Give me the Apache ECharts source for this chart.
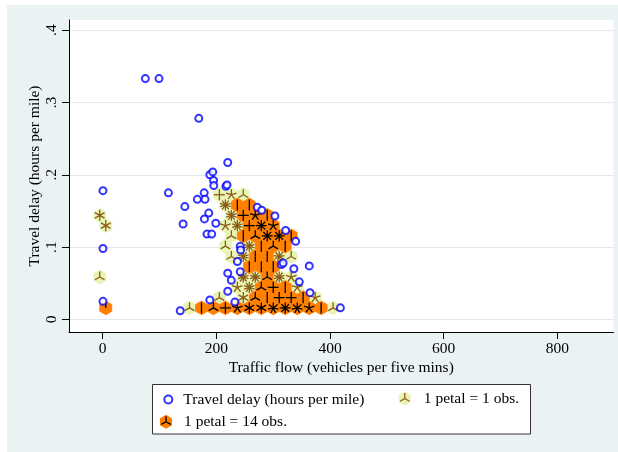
<!DOCTYPE html>
<html>
<head>
<meta charset="utf-8">
<script src="https://cdn.jsdelivr.net/npm/echarts@6/dist/echarts.min.js"></script>
<style>
  html, body { margin: 0; padding: 0; background: #ffffff; }
  #chart { width: 618px; height: 452px; }
</style>
</head>
<body>
<div id="chart"></div>
<script>
// Individual observations: [traffic flow, travel delay]
const delayPoints = [
  [75, 0.333], [99, 0.333], [169, 0.278], [220, 0.217], [188.5, 0.200], [193.6, 0.204],
  [195, 0.192], [195.4, 0.185], [216.7, 0.184], [218.7, 0.186], [0.4, 0.178], [115.6, 0.175],
  [178.5, 0.175], [166.5, 0.166], [180, 0.166], [144.5, 0.156], [272, 0.155], [279.8, 0.151],
  [303, 0.143], [186.6, 0.147], [141.4, 0.132], [179, 0.139], [199, 0.133], [322, 0.123],
  [339.6, 0.108], [183.5, 0.118], [191.8, 0.118], [0.4, 0.098], [242, 0.101], [242.6, 0.096],
  [237, 0.080], [314.4, 0.076], [317.5, 0.078], [336.4, 0.070], [363.5, 0.074], [220, 0.064],
  [226.3, 0.054], [345.9, 0.052], [242, 0.066], [220, 0.039], [188.5, 0.027], [0.4, 0.025],
  [232.6, 0.024], [136.4, 0.012], [418.3, 0.016], [364.8, 0.037]
];

// Light sunflowers (1 petal = 1 obs.): [bin centre x, bin centre y, petals]
const lightFlowers = [
  [205.3, 0.1724, 4], [226.4, 0.1724, 5], [247.4, 0.1724, 3],
  [215.9, 0.1582, 10],
  [226.4, 0.1439, 10], [-5.3, 0.1439, 6],
  [215.9, 0.1297, 5], [236.9, 0.1297, 10], [5.3, 0.1297, 6],
  [226.4, 0.1155, 3],
  [215.9, 0.1013, 3], [258.0, 0.1013, 10],
  [226.4, 0.0870, 3], [247.4, 0.0870, 10], [310.6, 0.0870, 9], [331.7, 0.0870, 3],
  [247.4, 0.0586, 10], [268.5, 0.0586, 10], [310.6, 0.0586, 10], [331.7, 0.0586, 5], [-5.3, 0.0586, 3],
  [236.9, 0.0443, 5], [258.0, 0.0443, 10], [342.3, 0.0443, 5],
  [205.3, 0.0301, 3], [247.4, 0.0301, 6], [373.8, 0.0301, 5],
  [152.7, 0.0159, 3], [405.4, 0.0159, 3]
];

// Dark sunflowers (1 petal = 14 obs.): [bin centre x, bin centre y, petals]
const darkFlowers = [
  [236.9, 0.1582, 2], [258.0, 0.1582, 2],
  [247.4, 0.1439, 4], [268.5, 0.1439, 5], [289.5, 0.1439, 2],
  [258.0, 0.1297, 4], [279.1, 0.1297, 8], [300.1, 0.1297, 5],
  [247.4, 0.1155, 2], [268.5, 0.1155, 3], [289.5, 0.1155, 8], [310.6, 0.1155, 8], [331.7, 0.1155, 2],
  [279.1, 0.1013, 2], [300.1, 0.1013, 3], [321.2, 0.1013, 2],
  [268.5, 0.0870, 2], [289.5, 0.0870, 2],
  [258.0, 0.0728, 2], [279.1, 0.0728, 2], [300.1, 0.0728, 2],
  [289.5, 0.0586, 3],
  [279.1, 0.0443, 3], [300.1, 0.0443, 4], [321.2, 0.0443, 2],
  [268.5, 0.0301, 3], [289.5, 0.0301, 2], [310.6, 0.0301, 4], [331.7, 0.0301, 4], [352.7, 0.0301, 2],
  [5.3, 0.0159, 1], [173.8, 0.0159, 2], [194.8, 0.0159, 3], [215.9, 0.0159, 4], [236.9, 0.0159, 5],
  [258.0, 0.0159, 6], [279.1, 0.0159, 6], [300.1, 0.0159, 7], [321.2, 0.0159, 8], [342.3, 0.0159, 7],
  [363.3, 0.0159, 5], [384.4, 0.0159, 2]
];

const xTicks = [0, 200, 400, 600, 800];
const yTicks = [0, 0.1, 0.2, 0.3, 0.4];

const BIN_W = 21.06;          // horizontal spacing of hexagonal bins, in x units
const SERIF = '"Liberation Serif", "DejaVu Serif", serif';
const LIGHT_FILL = '#e8f4b4', LIGHT_PETAL = '#8b5a16';
const DARK_FILL = '#ff8000', DARK_PETAL = '#000000';
const POINT_BLUE = '#0000ff';
const GRID_COLOR = '#dfe8ec';

// Hexagon with petals radiating from its centre; first petal points straight up.
function flowerRenderer(fill, petal) {
  return function (params, api) {
    const c = api.coord([api.value(0), api.value(1)]);
    const n = api.value(2);
    const w = api.size([BIN_W, 0])[0];
    const r = w / Math.sqrt(3);
    const hex = [];
    for (let i = 0; i < 6; i++) {
      const a = Math.PI / 2 + i * Math.PI / 3;
      hex.push([c[0] + r * Math.cos(a), c[1] - r * Math.sin(a)]);
    }
    const kids = [{
      type: 'polygon', shape: { points: hex },
      style: { fill: fill, stroke: fill, lineWidth: 0.8 }
    }];
    const len = r * 0.8;
    for (let i = 0; i < n; i++) {
      const a = Math.PI / 2 + i * 2 * Math.PI / n;
      kids.push({
        type: 'line',
        shape: { x1: c[0], y1: c[1], x2: c[0] + len * Math.cos(a), y2: c[1] - len * Math.sin(a) },
        style: { stroke: petal, lineWidth: 1.3 }
      });
    }
    return { type: 'group', children: kids };
  };
}

// Small legend key: a hexagon with three petals.
function flowerIcon(fill, petal, width, cx) {
  const h = 16, cy = 8, r = 7, len = 5.4;
  const pts = [];
  for (let i = 0; i < 6; i++) {
    const a = Math.PI / 2 + i * Math.PI / 3;
    pts.push((cx + r * Math.cos(a)).toFixed(2) + ',' + (cy - r * Math.sin(a)).toFixed(2));
  }
  let lines = '';
  for (let i = 0; i < 3; i++) {
    const a = Math.PI / 2 + i * 2 * Math.PI / 3;
    lines += '<line x1="' + cx + '" y1="' + cy + '" x2="' + (cx + len * Math.cos(a)).toFixed(2) +
      '" y2="' + (cy - len * Math.sin(a)).toFixed(2) + '" stroke="' + petal + '" stroke-width="1.3"/>';
  }
  const svg = '<svg xmlns="http://www.w3.org/2000/svg" width="' + width + '" height="' + h +
    '" viewBox="0 0 ' + width + ' ' + h + '"><polygon points="' + pts.join(' ') + '" fill="' + fill +
    '"/>' + lines + '</svg>';
  return 'image://data:image/svg+xml;charset=utf-8,' + encodeURIComponent(svg);
}

const labelStyle = { fontFamily: SERIF, fontSize: 15.5, color: '#000' };

const chart = echarts.init(document.getElementById('chart'), null, { renderer: 'canvas' });
chart.setOption({
  animation: false,
  backgroundColor: 'transparent',
  graphic: [
    { type: 'rect', z: -10, shape: { x: 7, y: 5, width: 611, height: 447 }, style: { fill: '#eaf2f3' } },
    { type: 'rect', z: -5, shape: { x: 152.5, y: 384.5, width: 378, height: 49.5 },
      style: { fill: '#ffffff', stroke: '#333333', lineWidth: 1 } }
  ],
  grid: { left: 69, right: 4.5, top: 20, bottom: 120, show: true, backgroundColor: '#ffffff', borderWidth: 0 },
  xAxis: {
    type: 'value', min: -59.4, max: 899,
    name: 'Traffic flow (vehicles per five mins)', nameLocation: 'middle', nameGap: 27.5,
    nameMoveOverlap: false,
    nameTextStyle: labelStyle,
    axisLine: { show: true, onZero: false, lineStyle: { color: '#000', width: 1 } },
    axisTick: { show: true, length: 7, customValues: xTicks, lineStyle: { color: '#000' } },
    axisLabel: { customValues: xTicks, margin: 9, fontFamily: SERIF, fontSize: 15.5, color: '#000' },
    splitLine: { show: false }
  },
  yAxis: {
    type: 'value', min: -0.0174, max: 0.414,
    name: 'Travel delay (hours per mile)', nameLocation: 'middle', nameGap: 26,
    nameMoveOverlap: false,
    nameTextStyle: labelStyle,
    axisLine: { show: true, onZero: false, lineStyle: { color: '#000', width: 1 } },
    axisTick: { show: true, length: 7, customValues: yTicks, lineStyle: { color: '#000' } },
    axisLabel: {
      customValues: yTicks, rotate: 90, margin: 9, fontFamily: SERIF, fontSize: 15.5, color: '#000',
      formatter: function (v) { return v === 0 ? '0' : String(v).replace(/^0/, ''); }
    },
    splitLine: { show: true, lineStyle: { color: GRID_COLOR, width: 1 } }
  },
  legend: [
    {
      data: [{ name: 'Travel delay (hours per mile)', icon: 'emptyCircle' }],
      left: 163.3, top: 391.5, padding: 0, itemWidth: 20, itemHeight: 8, selectedMode: false,
      textStyle: labelStyle
    },
    {
      data: [{ name: '1 petal = 1 obs.', icon: flowerIcon(LIGHT_FILL, LIGHT_PETAL, 28, 14) }],
      left: 390.8, top: 390.5, padding: 0, itemWidth: 28, itemHeight: 16, selectedMode: false,
      textStyle: labelStyle
    },
    {
      data: [{ name: '1 petal = 14 obs.', icon: flowerIcon(DARK_FILL, DARK_PETAL, 26, 13) }],
      left: 153, top: 413.7, padding: 0, itemWidth: 26, itemHeight: 16, selectedMode: false,
      textStyle: labelStyle
    }
  ],
  series: [
    {
      name: 'Travel delay (hours per mile)', type: 'scatter', data: delayPoints,
      symbol: 'emptyCircle', symbolSize: 7,
      itemStyle: { color: POINT_BLUE, borderColor: POINT_BLUE, borderWidth: 1.2 }
    },
    {
      name: '1 petal = 1 obs.', type: 'custom', data: lightFlowers,
      encode: { x: 0, y: 1 }, itemStyle: { color: LIGHT_FILL },
      renderItem: flowerRenderer(LIGHT_FILL, LIGHT_PETAL)
    },
    {
      name: '1 petal = 14 obs.', type: 'custom', data: darkFlowers,
      encode: { x: 0, y: 1 }, itemStyle: { color: DARK_FILL },
      renderItem: flowerRenderer(DARK_FILL, DARK_PETAL)
    }
  ]
});
</script>
</body>
</html>
